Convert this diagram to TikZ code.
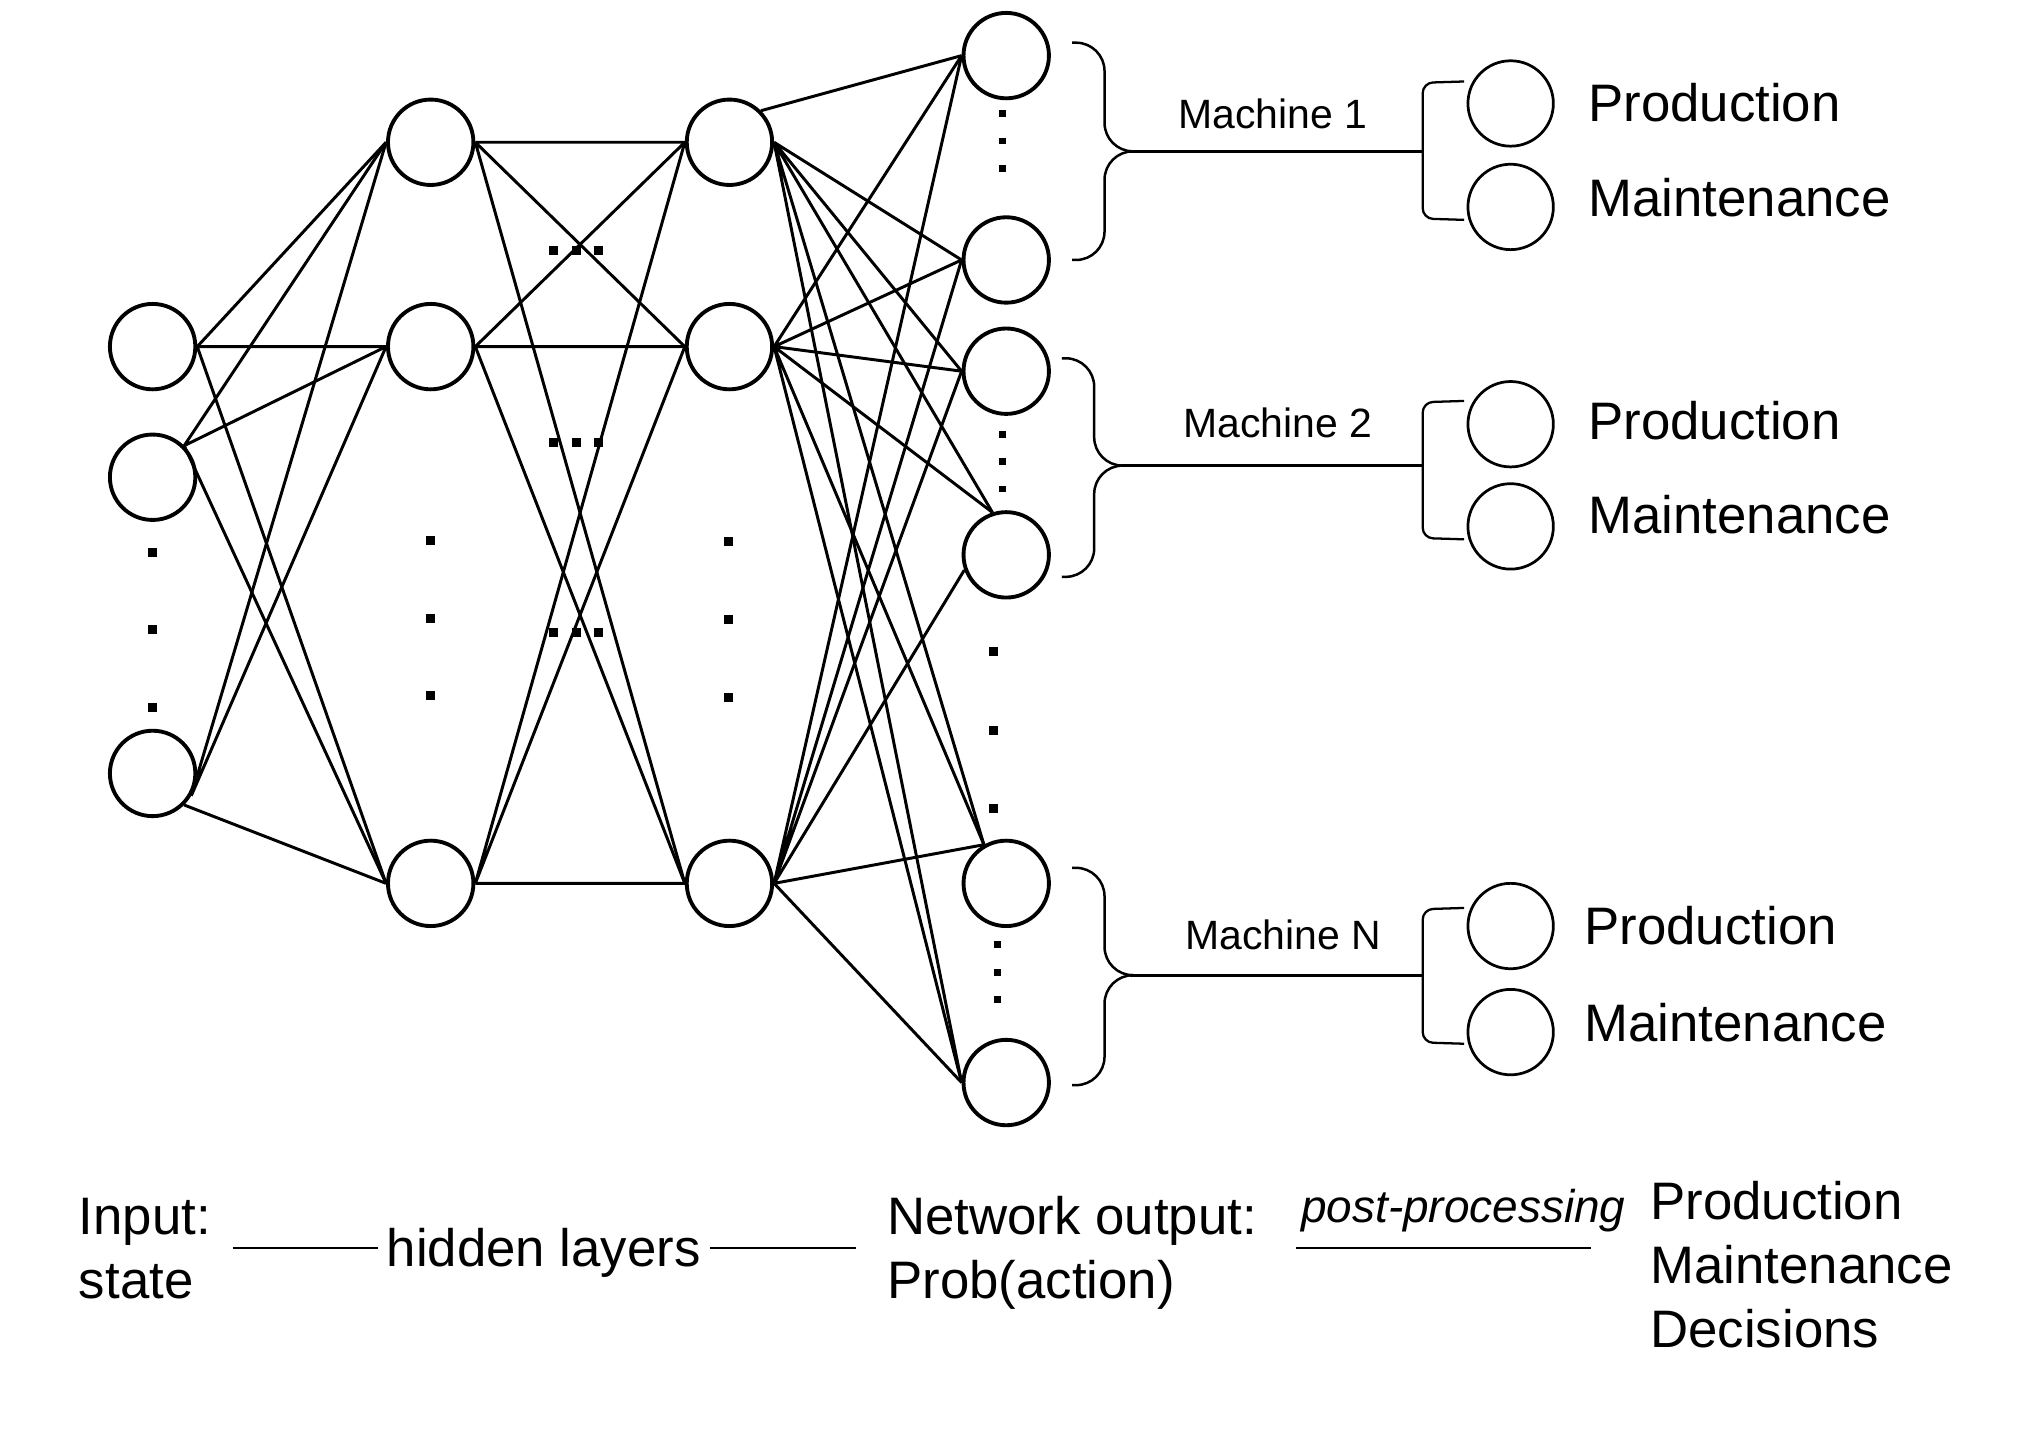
\documentclass[tikz,border=0pt]{standalone}
\usepackage{fontspec}
\setmainfont{Liberation Sans}
\usetikzlibrary{positioning}
\tikzset{>=stealth}
\tikzset{
  neuron/.style={circle,draw,line width=0.85pt,minimum size=6.6mm,inner sep=0pt},
  choice/.style={circle,draw,line width=0.6pt,minimum size=6.6mm,inner sep=0pt},
  link/.style={line width=0.65pt},
  brace/.style={line width=0.55pt,rounded corners=2.2mm},
  bracket/.style={line width=0.5pt,rounded corners=0.8mm},
  bigtxt/.style={font=\fontsize{11.6}{14.1}\selectfont,inner sep=0pt},
  smalltxt/.style={font=\fontsize{9}{11}\selectfont,inner sep=0pt},
  posttxt/.style={font=\fontsize{10.1}{12}\selectfont\itshape,inner sep=0pt},
}
\newcommand{\bigdot}[2]{\fill (#1-3.5,#2-3.5) rectangle ++(7,7);}
\newcommand{\smalldot}[2]{\fill (#1-2.6,#2-2.6) rectangle ++(5.2,5.2);}

\begin{document}
\begin{tikzpicture}[x=0.01cm,y=-0.01cm,line width=0.6pt]
      \useasboundingbox (0,0) rectangle (1568,1118);
      \node[neuron] (I1) at (118,268) {};
      \node[neuron] (I2) at (118,369) {};
      \node[neuron] (I3) at (118,598) {};
      \node[neuron] (A1) at (333,110) {};
      \node[neuron] (A2) at (333,268) {};
      \node[neuron] (A3) at (333,683) {};
      \node[neuron] (B1) at (564,110) {};
      \node[neuron] (B2) at (564,268) {};
      \node[neuron] (B3) at (564,683) {};
      \node[neuron] (O1) at (778,43) {};
      \node[neuron] (O2) at (778,201) {};
      \node[neuron] (O3) at (778,287) {};
      \node[neuron] (O4) at (778,429) {};
      \node[neuron] (O5) at (778,683) {};
      \node[neuron] (O6) at (778,837) {};
      \node[choice] (P1) at (1168,80) {};
      \node[choice] (Q1) at (1168,160) {};
      \node[choice] (P2) at (1168,328) {};
      \node[choice] (Q2) at (1168,407) {};
      \node[choice] (PN) at (1168,716) {};
      \node[choice] (QN) at (1168,798) {};
      \draw[link] (I1.east) -- (A1.west) (I1.east) -- (A2.west) (I1.east) -- (A3.west);
      \draw[link] (I2.45) -- (A1.west) (I2.45) -- (A2.west) (I2.45) -- (A3.west);
      \draw[link] (I3.-30) -- (A1.west) (I3.-30) -- (A2.west) (I3.-45) -- (A3.west);
      \draw[link] (A1.east) -- (B1.west) (A1.east) -- (B2.west) (A1.east) -- (B3.west);
      \draw[link] (A2.east) -- (B1.west) (A2.east) -- (B2.west) (A2.east) -- (B3.west);
      \draw[link] (A3.east) -- (B1.west) (A3.east) -- (B2.west) (A3.east) -- (B3.west);
      \draw[link] (B1.45) -- (O1.west) (B1.east) -- (O2.west) (B1.east) -- (O3.west);
      \draw[link] (B1.east) -- (O4.108) (B1.east) -- (O5.120) (B1.east) -- (O6.west);
      \draw[link] (B2.east) -- (O1.west) (B2.east) -- (O2.west) (B2.east) -- (O3.west);
      \draw[link] (B2.east) -- (O4.108) (B2.east) -- (O5.120) (B2.east) -- (O6.west);
      \draw[link] (B3.east) -- (O1.west) (B3.east) -- (O2.west) (B3.east) -- (O3.west);
      \draw[link] (B3.east) -- (O4.200) (B3.east) -- (O5.120) (B3.east) -- (O6.west);
      \bigdot{118}{427} \bigdot{118}{487} \bigdot{118}{547}
      \bigdot{333}{418} \bigdot{333}{478} \bigdot{333}{538}
      \bigdot{563}{419} \bigdot{563}{479} \bigdot{563}{539}
      \bigdot{428}{194} \bigdot{446}{194} \bigdot{463}{194}
      \bigdot{428}{342} \bigdot{446}{342} \bigdot{463}{342}
      \bigdot{428}{489} \bigdot{446}{489} \bigdot{463}{489}
      \bigdot{768}{504} \bigdot{768}{565} \bigdot{768}{625}
      \smalldot{775}{88} \smalldot{775}{109} \smalldot{775}{130}
      \smalldot{775}{336} \smalldot{775}{357} \smalldot{775}{378}
      \smalldot{771}{730} \smalldot{771}{752} \smalldot{771}{773}
      \coordinate (t1) at (874,117);
      \coordinate (k1) at (1100,117);
      \coordinate (t2) at (867,360);
      \coordinate (k2) at (1100,360);
      \coordinate (tN) at (874,754);
      \coordinate (kN) at (1100,754);
      \draw[brace] (829,33) -- (854,33) -- (854,117) -- (t1);
      \draw[brace] (t1) -- (854,117) -- (854,201) -- (829,201);
      \draw[brace] (821,277) -- (846,277) -- (846,360) -- (t2);
      \draw[brace] (t2) -- (846,360) -- (846,446) -- (821,446);
      \draw[brace] (829,671) -- (854,671) -- (854,754) -- (tN);
      \draw[brace] (tN) -- (854,754) -- (854,839) -- (829,839);
      \draw (t1) -- (k1);
      \draw (t2) -- (k2);
      \draw (tN) -- (kN);
      \draw[bracket] (1132,63) -- (1100,64) -- (1100,169) -- (1132,170);
      \draw[bracket] (1132,310) -- (1100,311) -- (1100,416) -- (1132,417);
      \draw[bracket] (1132,702) -- (1100,703) -- (1100,806) -- (1132,807);
      \node[smalltxt] (m1) at (984,88) {Machine 1};
      \node[smalltxt] (m2) at (988,327) {Machine 2};
      \node[smalltxt] (mN) at (992,723) {Machine N};
      \node[bigtxt,right=2.5mm of P1,yshift=0.1mm] (p1) {Production};
      \node[bigtxt,right=2.5mm of Q1,yshift=0.7mm] (q1) {Maintenance};
      \node[bigtxt,right=2.5mm of P2,yshift=0.3mm] (p2) {Production};
      \node[bigtxt,right=2.5mm of Q2,yshift=0.9mm] (q2) {Maintenance};
      \node[bigtxt,right=2.2mm of PN] (pN) {Production};
      \node[bigtxt,right=2.2mm of QN,yshift=0.7mm] (qN) {Maintenance};
      \node[bigtxt,anchor=north west,align=left] (inp) at (60,925) {Input:\\state};
      \node[bigtxt,anchor=base west,inner xsep=0.6mm] (hid) at (292,979) {hidden layers};
      \node[bigtxt,anchor=north west,align=left] (net) at (685,924) {Network output:\\Prob(action)};
      \node[posttxt,anchor=base west] (post) at (1005,945) {post-processing};
      \node[bigtxt,anchor=north west,align=left] (dec) at (1275,912) {Production\\Maintenance\\Decisions};
      \coordinate (l1) at (180,965);
      \coordinate (l2) at (662,965);
      \coordinate (pp1) at (1002,965);
      \coordinate (pp2) at (1230,965);
      \draw (l1) -- (l1 -| hid.west);
      \draw (hid.east |- l2) -- (l2);
      \draw (pp1) -- (pp2);
    \end{tikzpicture}
\end{document}
